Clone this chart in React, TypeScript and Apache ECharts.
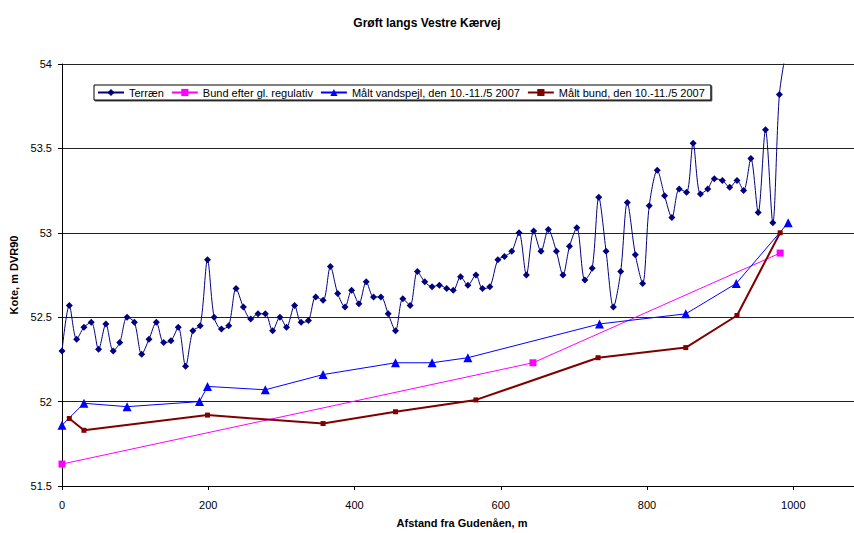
import React, { useEffect, useRef } from "react";
import * as echarts from "echarts";

const terrX = [0,10,20,30,40,50,60,70,79,89,99,109,119,129,139,149,159,169,179,189,199,208,218,228,238,248,258,268,278,288,298,307,318,327,337,347,357,367,377,387,396,406,416,426,436,446,456,466,476,486,496,506,516,526,535,545,555,566,575,585,596,605,615,625,635,645,655,665,676,685,694,704,715,725,734,744,754,764,773,784,794,803,814,824,834,844,854,863,873,883,892,903,913,923,932,942,952,962,972,981,991];
const terrY = [52.30,52.57,52.37,52.44,52.47,52.31,52.46,52.30,52.35,52.50,
  52.47,52.28,52.37,52.47,52.35,52.36,52.44,52.21,52.42,52.45,
  52.84,52.50,52.43,52.45,52.67,52.56,52.49,52.52,52.52,52.42,
  52.50,52.44,52.57,52.47,52.48,52.62,52.60,52.80,52.64,52.56,
  52.66,52.58,52.71,52.62,52.62,52.52,52.42,52.61,52.57,52.77,
  52.71,52.68,52.69,52.67,52.66,52.74,52.69,52.75,52.67,52.68,
  52.84,52.86,52.89,53.00,52.75,53.01,52.89,53.02,52.89,52.75,
  52.92,53.03,52.72,52.79,53.21,52.89,52.56,52.77,53.18,52.87,
  52.70,53.16,53.37,53.22,53.09,53.26,53.24,53.53,53.23,53.26,
  53.32,53.31,53.27,53.31,53.25,53.44,53.12,53.61,53.06,53.82,
  54.10];

const bundX = [0, 644, 982];
const bundY = [51.63, 52.23, 52.88];

const vandX = [0, 30, 89, 188, 199, 278, 357, 456, 506, 555, 735, 853, 922, 993];
const vandY = [51.86, 51.99, 51.97, 52.00, 52.09, 52.07, 52.16, 52.23, 52.23, 52.26, 52.46, 52.52, 52.70, 53.06];

const maaltX = [10, 30, 199, 357, 456, 566, 733, 853, 923, 982];
const maaltY = [51.90, 51.83, 51.92, 51.87, 51.94, 52.01, 52.26, 52.32, 52.51, 53.00];

const seriesNames = [
  "Terræn",
  "Bund efter gl. regulativ",
  "Målt vandspejl, den 10.-11./5 2007",
  "Målt bund, den 10.-11./5 2007",
];

const titleText = "Grøft langs Vestre Kærvej";
const xName = "Afstand fra Gudenåen, m";
const yName = "Kote, m DVR90";

const FONT = "'Liberation Sans', Arial, sans-serif";

function pairs(xs: number[], ys: number[]) {
  return xs.map((x, i) => [x, ys[i]]);
}

export default function App() {
  const ref = useRef<HTMLDivElement>(null);
  useEffect(() => {
    if (!ref.current) return;
    const chart = echarts.init(ref.current, undefined, { renderer: "svg" });
    chart.setOption({
      animation: false,
      backgroundColor: "#fff",
      title: {
        text: titleText,
        left: "center",
        top: 12,
        textStyle: { fontFamily: FONT, fontSize: 12, fontWeight: "bold", color: "#000" },
      },
      legend: {
        left: 94,
        top: 85,
        orient: "horizontal",
        borderColor: "#000",
        borderWidth: 1,
        padding: [2, 6, 2, 3],
        itemGap: 7,
        itemWidth: 26,
        itemHeight: 9,
        shadowColor: "rgba(0,0,0,0.7)",
        shadowOffsetX: 1,
        shadowOffsetY: 1,
        shadowBlur: 0,
        backgroundColor: "#fff",
        textStyle: { fontFamily: FONT, fontSize: 11, color: "#000" },
        data: seriesNames,
      },
      grid: { left: 62, top: 64, right: 0, height: 424, containLabel: false },
      xAxis: {
        type: "value",
        min: 0,
        max: 1083,
        interval: 200,
        name: xName,
        nameLocation: "middle",
        nameGap: 31,
        nameTextStyle: { fontFamily: FONT, fontSize: 11, fontWeight: "bold", color: "#000", padding: [0, 0, 0, 8] },
        axisLine: { show: true, lineStyle: { color: "#000", width: 1 } },
        axisTick: { show: true, inside: false, length: 4, lineStyle: { color: "#000" } },
        axisLabel: {
          margin: 13,
          fontFamily: FONT,
          fontSize: 11,
          color: "#000",
          showMaxLabel: false,
          formatter: (v: number) => (v % 200 === 0 ? String(v) : ""),
        },
        splitLine: { show: false },
      },
      yAxis: {
        type: "value",
        min: 51.5,
        max: 54,
        interval: 0.5,
        name: yName,
        nameLocation: "middle",
        nameRotate: 90,
        nameGap: 38,
        nameTextStyle: { fontFamily: FONT, fontSize: 11, fontWeight: "bold", color: "#000" },
        axisLine: { show: true, lineStyle: { color: "#000", width: 1 } },
        axisTick: { show: true, inside: false, length: 4, lineStyle: { color: "#000" } },
        axisLabel: { margin: 10, fontFamily: FONT, fontSize: 11, color: "#000" },
        splitLine: { show: true, lineStyle: { color: "#222", width: 1 } },
      },
      series: [
        {
          name: seriesNames[0],
          type: "line",
          data: pairs(terrX, terrY),
          smooth: 0.3,
          symbol: "diamond",
          symbolSize: 7,
          itemStyle: { color: "#000080" },
          lineStyle: { color: "#000080", width: 1 },
          clip: true,
        },
        {
          name: seriesNames[1],
          type: "line",
          data: pairs(bundX, bundY),
          symbol: "rect",
          symbolSize: 7,
          itemStyle: { color: "#FF00FF" },
          lineStyle: { color: "#FF00FF", width: 1 },
        },
        {
          name: seriesNames[2],
          type: "line",
          data: pairs(vandX, vandY),
          symbol: "triangle",
          symbolSize: 9,
          itemStyle: { color: "#0000FF" },
          lineStyle: { color: "#0000FF", width: 1 },
        },
        {
          name: seriesNames[3],
          type: "line",
          data: pairs(maaltX, maaltY),
          symbol: "rect",
          symbolSize: 5,
          itemStyle: { color: "#800000" },
          lineStyle: { color: "#800000", width: 2 },
        },
      ],
    });
    return () => chart.dispose();
  }, []);
  return (
    <div
      ref={ref}
      style={{ position: "fixed", left: 0, top: 0, width: 854, height: 533 }}
    />
  );
}
